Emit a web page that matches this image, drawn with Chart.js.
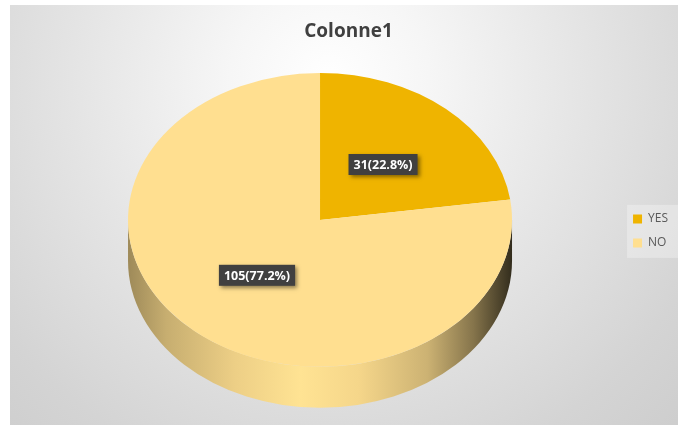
<!DOCTYPE html>
<html>
<head>
<meta charset="utf-8">
<title>Colonne1</title>
<script src="https://cdn.jsdelivr.net/npm/chart.js@4.4.1/dist/chart.umd.min.js"></script>
<style>
  html, body { margin: 0; padding: 0; background: #fff; overflow: hidden; }
  #panel {
    position: absolute;
    left: 10px;
    top: 5px;
    width: 680px;
    height: 420px;
    background: radial-gradient(circle at 47% 18%, #ffffff 0%, #f6f6f6 20%, #e4e4e4 52%, #d4d4d4 82%, #cdcdcd 100%);
  }
</style>
</head>
<body>
<div id="panel"><canvas id="pieChart" width="680" height="420"></canvas></div>
<script>
// Answers to Colonne1
const categories  = ['YES', 'NO'];
const counts      = [31, 105];
const sliceColors = ['#EFB400', '#FFDF90'];
const chartTitle  = 'Colonne1';

// pie is tilted back: top face squashed to an ellipse, rim shown underneath
const TILT      = 0.765;
const RIM_DEPTH = 41;

// brightness along the rim, left to right (lit from the front-left)
const rimStops = [[0, 0.62], [0.1, 0.78], [0.28, 0.93], [0.45, 1.02], [0.6, 0.96], [0.78, 0.8], [0.9, 0.52], [1, 0.2]];

const total = counts.reduce((a, b) => a + b, 0);

function shade(hex, f) {
  const n = parseInt(hex.slice(1), 16);
  const r = Math.min(255, Math.round(((n >> 16) & 255) * f));
  const g = Math.min(255, Math.round(((n >> 8) & 255) * f));
  const b = Math.min(255, Math.round((n & 255) * f));
  return `rgb(${r},${g},${b})`;
}

function labelText(i) {
  return `${counts[i]}(${(counts[i] / total * 100).toFixed(1)}%)`;
}

const tiltedPie = {
  id: 'tiltedPie',
  beforeDraw(chart) {
    // light box behind the legend entries
    const boxes = chart.legend && chart.legend.legendHitBoxes;
    if (!boxes || !boxes.length) return;
    const top = Math.min(...boxes.map(b => b.top)) - 8;
    const last = boxes[boxes.length - 1];
    const ctx = chart.ctx;
    ctx.save();
    ctx.fillStyle = 'rgba(255,255,255,0.3)';
    ctx.fillRect(boxes[0].left - 6, top, chart.width - boxes[0].left + 6, last.top + last.height + 9 - top);
    ctx.restore();
  },
  beforeDatasetsDraw(chart) {
    const ctx = chart.ctx;
    const arcs = chart.getDatasetMeta(0).data;
    if (!arcs.length) return;
    const { x: cx, y: cy, outerRadius: r } = arcs[0].getProps(['x', 'y', 'outerRadius'], true);
    const ry = r * TILT;

    // rim: only the front half (0..PI) can be seen
    arcs.forEach((arc, i) => {
      const { startAngle, endAngle } = arc.getProps(['startAngle', 'endAngle'], true);
      [-2 * Math.PI, 0, 2 * Math.PI].forEach(shift => {
        const s = Math.max(startAngle, shift);
        const e = Math.min(endAngle, shift + Math.PI);
        if (e <= s) return;
        const a0 = s - shift, a1 = e - shift;
        const grad = ctx.createLinearGradient(cx - r, 0, cx + r, 0);
        rimStops.forEach(([p, f]) => grad.addColorStop(p, shade(sliceColors[i], f)));
        ctx.beginPath();
        ctx.ellipse(cx, cy, r, ry, 0, a0, a1);
        ctx.ellipse(cx, cy + RIM_DEPTH, r, ry, 0, a1, a0, true);
        ctx.closePath();
        ctx.fillStyle = grad;
        ctx.fill();
      });
    });

    // squash the top face
    ctx.save();
    ctx.translate(cx, cy);
    ctx.scale(1, TILT);
    ctx.translate(-cx, -cy);
  },
  afterDatasetsDraw(chart) {
    const ctx = chart.ctx;
    ctx.restore();

    const arcs = chart.getDatasetMeta(0).data;
    arcs.forEach((arc, i) => {
      const cy = arc.y;
      const pos = arc.tooltipPosition(true);
      const px = pos.x;
      const py = cy + (pos.y - cy) * TILT;
      const text = labelText(i);

      ctx.save();
      ctx.font = 'bold 12.5px "Open Sans"';
      const w = ctx.measureText(text).width + 10;
      const h = 21;
      ctx.shadowColor = 'rgba(0,0,0,0.45)';
      ctx.shadowBlur = 4;
      ctx.shadowOffsetX = 2;
      ctx.shadowOffsetY = 2;
      ctx.fillStyle = '#404040';
      ctx.fillRect(px - w / 2, py - h / 2, w, h);
      ctx.shadowColor = 'transparent';
      ctx.fillStyle = '#ffffff';
      ctx.textAlign = 'center';
      ctx.textBaseline = 'middle';
      ctx.fillText(text, px, py + 1);
      ctx.restore();
    });
  }
};

const ctx = document.getElementById('pieChart').getContext('2d');

new Chart(ctx, {
  type: 'pie',
  data: {
    labels: categories,
    datasets: [{
      data: counts,
      backgroundColor: sliceColors,
      borderWidth: 0,
      radius: 192,
      clip: false
    }]
  },
  options: {
    responsive: false,
    animation: false,
    events: [],
    layout: { padding: { left: 9, right: 12, top: 0, bottom: 38 } },
    plugins: {
      title: {
        display: true,
        text: chartTitle,
        color: '#404040',
        font: { family: 'Open Sans', size: 19, weight: 'bold' },
        padding: { top: 15, bottom: 10 }
      },
      legend: {
        position: 'right',
        fullSize: false,
        // empty legend title just nudges the two entries down a little
        title: { display: true, text: '', font: { size: 10 }, padding: 5 },
        labels: {
          boxWidth: 9,
          boxHeight: 9,
          padding: 12,
          color: '#595959',
          font: { family: 'Open Sans', size: 12 }
        }
      },
      tooltip: { enabled: false }
    }
  },
  plugins: [tiltedPie]
});
</script>
</body>
</html>
